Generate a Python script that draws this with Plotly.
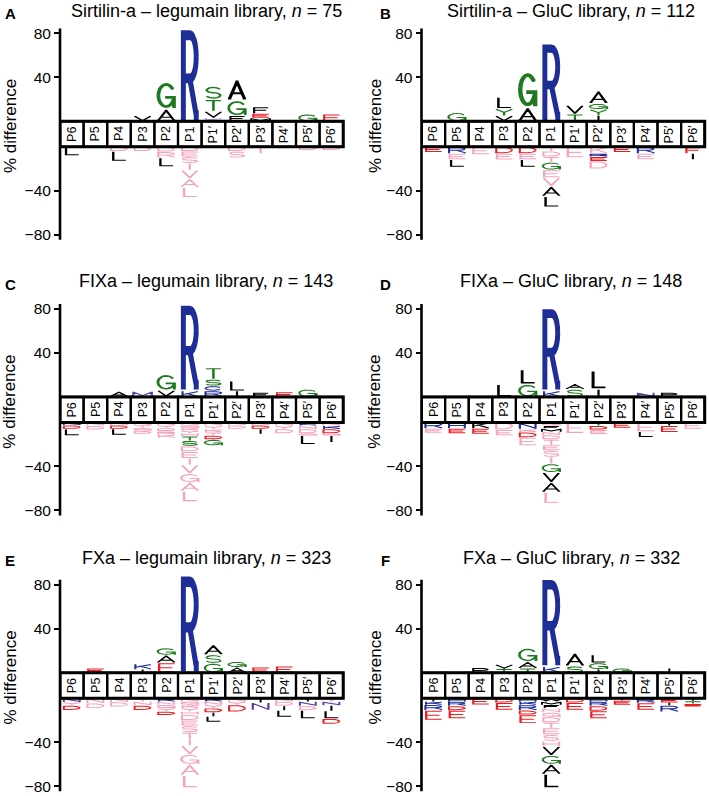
import math
import plotly.graph_objects as go

# ---------------- data ----------------
POSITIONS = ["P6", "P5", "P4", "P3", "P2", "P1", "P1′", "P2′", "P3′", "P4′", "P5′", "P6′"]
PANEL_LETTERS = ["A", "B", "C", "D", "E", "F"]
TITLES = ["Sirtilin-a – legumain library", "Sirtilin-a – GluC library",
          "FIXa – legumain library", "FIXa – GluC library",
          "FXa – legumain library", "FXa – GluC library"]
N_VALUES = [75, 112, 143, 148, 323, 332]
Y_TICKS = [80, 40, -40, -80]
Y_TICK_TEXT = ["80", "40", "−40", "−80"]

# each position: list of (residue, % difference magnitude, colour class), from the box outwards
A_POS = [[], [], [], [("V", 5, "k")], [("A", 11, "k"), ("G", 25, "g")], [("R", 84, "b")],
         [("K", 3, "l"), ("V", 6, "k"), ("T", 11, "g"), ("S", 12, "g")],
         [("F", 5, "k"), ("G", 14, "g"), ("A", 19, "k")],
         [("M", 3, "k"), ("E", 4, "r"), ("F", 6, "k")], [], [("G", 6.5, "g")], [("E", 6.5, "r")]]
A_NEG = [[("L", 8, "k")], [], [("D", 4, "p"), ("L", 9, "k")], [("D", 4, "p")],
         [("D", 4.5, "p"), ("R", 5.5, "p"), ("L", 8, "k")],
         [("D", 4, "p"), ("E", 5, "p"), ("S", 6, "p"), ("I", 6, "p"), ("V", 8, "p"), ("A", 8, "p"), ("L", 9, "p")],
         [], [("D", 4, "p"), ("S", 6, "p")], [("I", 6, "p")], [], [("D", 3, "p")], [("D", 3, "p")]]

B_POS = [[], [("G", 8, "g")], [], [("V", 5, "k"), ("Y", 6.5, "g"), ("L", 10.5, "k")],
         [("A", 12.5, "k"), ("G", 32.5, "g")], [("R", 71, "b")],
         [("T", 6.5, "g"), ("V", 8, "k")],
         [("I", 5, "k"), ("Y", 6, "g"), ("G", 5, "g"), ("A", 11.7, "k")], [], [], [], []]
B_NEG = [[("E", 5, "r")], [("R", 6, "b"), ("E", 5.5, "p"), ("L", 7, "k")], [("E", 7, "p")],
         [("D", 6, "r"), ("E", 5.7, "p")], [("D", 6, "r"), ("E", 5.5, "p"), ("L", 7, "k")],
         [("I", 4, "p"), ("D", 5, "p"), ("T", 5, "p"), ("G", 7, "g"), ("E", 7, "p"), ("V", 8, "p"), ("A", 9, "k"), ("L", 9.8, "k")],
         [("E", 10, "p")], [("K", 6, "p"), ("R", 3, "b"), ("E", 4, "r"), ("D", 7, "p")],
         [("E", 5, "r")], [("R", 6, "b"), ("E", 5.5, "p")], [], [("F", 6, "r"), ("I", 5.5, "k")]]

C_POS = [[], [], [("A", 5, "k")], [("M", 5, "v")], [("V", 6, "k"), ("G", 14.6, "g")],
         [("K", 5.5, "b"), ("R", 78.5, "b")],
         [("R", 5.5, "b"), ("C", 4.5, "b"), ("S", 6, "g"), ("T", 10.7, "g")],
         [("I", 5.5, "k"), ("L", 9, "k")], [("F", 4, "k")], [("E", 4.5, "r")], [("G", 7, "g")], []]
C_NEG = [[("N", 2.5, "b"), ("D", 3.5, "r"), ("L", 6, "k")], [("N", 3, "p"), ("D", 3.5, "p")],
         [("N", 2.5, "p"), ("D", 3.5, "r"), ("L", 5.5, "k")],
         [("N", 2.5, "p"), ("T", 2.5, "p"), ("Q", 2.5, "p"), ("D", 3, "p")],
         [("N", 2.5, "p"), ("Y", 2.5, "p"), ("D", 3, "p"), ("R", 3, "p"), ("K", 3, "p")],
         [("N", 2.5, "p"), ("Q", 2.5, "p"), ("K", 2.5, "p"), ("Y", 2.5, "p"), ("H", 2.5, "p"), ("T", 4, "g"),
          ("S", 5, "g"), ("D", 5, "p"), ("E", 6, "p"), ("I", 6, "p"), ("V", 8, "p"), ("G", 8, "p"), ("A", 8, "p"), ("L", 9.5, "p")],
         [("N", 3, "p"), ("Y", 3, "p"), ("K", 3, "p"), ("T", 3, "p"), ("D", 3.5, "r"), ("G", 5.5, "g")],
         [("N", 2.5, "p"), ("D", 3.5, "p")], [("N", 2.5, "p"), ("D", 3.5, "r"), ("I", 4.5, "k")],
         [("N", 3, "p"), ("Y", 3, "p"), ("D", 4, "p")],
         [("K", 3, "b"), ("N", 3, "p"), ("D", 4, "p"), ("Q", 2, "p"), ("L", 8, "k")],
         [("N", 3, "p"), ("K", 3, "b"), ("D", 4, "r"), ("Q", 2, "p"), ("I", 6, "k")]]

D_POS = [[], [], [], [("L", 11.5, "k")], [("G", 11.5, "g"), ("L", 13.5, "k")],
         [("K", 5.5, "b"), ("R", 75.5, "b")], [("S", 7, "g"), ("A", 5, "k")],
         [("I", 7, "k"), ("L", 17, "k")], [], [("N", 4, "v")], [("P", 4, "k")], []]
D_NEG = [[("R", 5.5, "b"), ("E", 4, "p")], [("H", 5.5, "b"), ("E", 4.5, "r")],
         [("K", 5.5, "k"), ("E", 5, "r")], [("D", 6.5, "p"), ("E", 5.5, "p")],
         [("N", 6, "b"), ("K", 3, "p"), ("D", 4.6, "r"), ("E", 7.4, "p")],
         [("Q", 3, "p"), ("F", 2.5, "k"), ("M", 3, "k"), ("N", 3, "p"), ("D", 4, "p"), ("T", 5, "p"), ("E", 5, "p"),
          ("S", 6, "p"), ("I", 6, "p"), ("G", 8, "g"), ("V", 9, "k"), ("A", 9, "k"), ("L", 10, "p")],
         [("E", 10, "p")], [("T", 3, "g"), ("D", 3.6, "r"), ("E", 4, "p")], [("E", 5, "r")],
         [("E", 8.5, "p"), ("L", 5, "k")], [("I", 3, "k"), ("E", 6, "r")], [("E", 6, "p")]]

E_POS = [[], [("E", 4, "r")], [], [("I", 3, "k"), ("K", 5, "b")],
         [("E", 9, "r"), ("A", 7, "k"), ("G", 6.5, "g")], [("R", 88.6, "b")],
         [("G", 8.6, "g"), ("S", 7.7, "g"), ("A", 9.2, "k")], [("A", 5, "k"), ("G", 5, "g")],
         [("E", 5, "r")], [("E", 6, "r")], [], []]
E_NEG = [[("N", 3.5, "v"), ("Y", 3, "p"), ("D", 4.3, "r")], [("N", 4.5, "p"), ("D", 4.7, "p")],
         [("N", 3.5, "p"), ("D", 4.2, "p")], [("T", 3, "p"), ("N", 3.5, "p"), ("D", 4.3, "r")],
         [("K", 3, "b"), ("N", 3, "p"), ("Q", 3, "p"), ("Y", 3, "p"), ("D", 3.4, "r")],
         [("N", 3, "p"), ("Q", 3, "p"), ("K", 3, "p"), ("Y", 3, "p"), ("H", 3, "p"), ("D", 5, "p"), ("E", 5, "p"),
          ("S", 6, "p"), ("T", 6, "p"), ("I", 6, "p"), ("V", 8, "p"), ("G", 9, "p"), ("A", 10, "p"), ("L", 11.5, "p")],
         [("K", 3, "b"), ("N", 3, "p"), ("Y", 3, "p"), ("D", 4, "r"), ("I", 3.5, "k"), ("L", 5, "k")],
         [("N", 3, "p"), ("Y", 3, "p"), ("D", 6.3, "r")], [("I", 4, "k"), ("N", 6.8, "v")],
         [("N", 3, "p"), ("D", 4, "p"), ("I", 4, "k"), ("L", 6, "k")],
         [("I", 3, "k"), ("N", 4, "v"), ("D", 4, "p"), ("L", 7.5, "k")],
         [("Y", 3, "p"), ("N", 3.5, "v"), ("I", 5, "k"), ("L", 7, "k"), ("D", 5, "r")]]

F_POS = [[], [], [("P", 4.5, "k")], [("T", 3.5, "g"), ("V", 4, "k")],
         [("T", 4, "g"), ("A", 6, "k"), ("G", 12.5, "g")], [("K", 5.5, "b"), ("R", 80, "b")],
         [("S", 6, "g"), ("A", 11.8, "k")], [("I", 3, "k"), ("G", 6, "g"), ("L", 7.3, "k")],
         [("G", 4, "g")], [], [("I", 4, "k")], []]
F_NEG = [[("I", 3, "k"), ("K", 3, "b"), ("R", 4.8, "b"), ("E", 9.2, "r")],
         [("H", 3, "b"), ("R", 4, "b"), ("D", 4, "r"), ("E", 7.5, "r")], [("E", 6, "r")],
         [("D", 4, "r"), ("E", 6.8, "r")],
         [("H", 3, "b"), ("K", 3, "b"), ("R", 5, "b"), ("D", 4, "r"), ("E", 8, "r")],
         [("W", 3, "k"), ("M", 3, "k"), ("F", 3, "k"), ("N", 4, "p"), ("Q", 4, "p"), ("D", 5, "p"), ("T", 5, "p"),
          ("E", 6, "p"), ("S", 6, "p"), ("H", 5, "p"), ("V", 8, "k"), ("G", 8, "g"), ("A", 9, "k"), ("L", 12.5, "k")],
         [("D", 4, "r"), ("E", 6.8, "r")], [("H", 3, "b"), ("R", 4, "b"), ("D", 4.5, "r"), ("E", 7, "r")],
         [("I", 2, "k"), ("E", 4, "r")], [("R", 4.3, "b"), ("E", 6.5, "r")],
         [("E", 4, "r"), ("I", 2.5, "k"), ("R", 5.8, "b")], [("I", 2.5, "k"), ("T", 2.5, "g"), ("E", 2.7, "r")]]

PANELS_POS = [A_POS, B_POS, C_POS, D_POS, E_POS, F_POS]
PANELS_NEG = [A_NEG, B_NEG, C_NEG, D_NEG, E_NEG, F_NEG]

# ---------------- styles ----------------
FONT = "Liberation Sans, Arial, Helvetica, sans-serif"
COLORS = {"k": "#000000", "g": "#1f7a1f", "r": "#ec1c24", "b": "#1f2d96",
          "p": "#f4a3bf", "v": "#5b3f9e", "l": "#9a9ad8"}
FIG_W, FIG_H = 709, 796
BOX_H = 11.6          # half height of the position box, in axis units
PX_PER_UNIT_Y = 1.1
PX_PER_UNIT_X = 23.6
COL_X0 = [60.0, 421.5]
ROW_CY = [134.1, 409.7, 685.5]
Y_RANGE = [-100, 104]
X_RANGE = [0, 12.15]


def arc(cx, cy, rx, ry, a0, a1, n=14):
    return [(cx + rx * math.cos(math.radians(a0 + (a1 - a0) * k / n)),
             cy + ry * math.sin(math.radians(a0 + (a1 - a0) * k / n))) for k in range(n + 1)]


PBOWL = [(0, 1), (0.55, 1)] + arc(0.55, 0.73, 0.45, 0.27, 90, -90, 10) + [(0.55, 0.46), (0, 0.46)]
GLYPHS = {
    "A": [("s", [(0, 0), (0.5, 1), (1, 0)]), ("s", [(0.2, 0.3), (0.8, 0.3)])],
    "C": [("o", arc(0.5, 0.5, 0.5, 0.5, 40, 320, 18))],
    "D": [("s", [(0, 0), (0, 1)]),
          ("o", [(0, 1), (0.45, 1)] + arc(0.45, 0.5, 0.55, 0.5, 90, -90, 14) + [(0.45, 0), (0, 0)])],
    "E": [("s", [(1, 1), (0, 1), (0, 0), (1, 0)]), ("s", [(0, 0.5), (0.85, 0.5)])],
    "F": [("s", [(1, 1), (0, 1), (0, 0)]), ("s", [(0, 0.5), (0.85, 0.5)])],
    "G": [("o", arc(0.5, 0.5, 0.5, 0.5, 40, 340, 18)), ("s", [(0.55, 0.42), (1, 0.42), (1, 0)])],
    "H": [("s", [(0, 0), (0, 1)]), ("s", [(1, 0), (1, 1)]), ("s", [(0, 0.5), (1, 0.5)])],
    "I": [("s", [(0.5, 0), (0.5, 1)])],
    "K": [("s", [(0, 0), (0, 1)]), ("s", [(1, 1), (0, 0.35)]), ("s", [(0.32, 0.6), (1, 0)])],
    "L": [("s", [(0, 1), (0, 0), (1, 0)])],
    "M": [("s", [(0, 0), (0, 1), (0.5, 0.12), (1, 1), (1, 0)])],
    "N": [("s", [(0, 0), (0, 1), (1, 0), (1, 1)])],
    "P": [("s", [(0, 0), (0, 1)]), ("o", PBOWL)],
    "Q": [("o", arc(0.5, 0.5, 0.5, 0.5, 0, 360, 22)), ("s", [(0.62, 0.25), (1, 0)])],
    "R": [("s", [(0, 0), (0, 1)]), ("o", PBOWL), ("s", [(0.5, 0.46), (1, 0)])],
    "S": [("o", arc(0.5, 0.75, 0.48, 0.25, 25, 270, 10) + arc(0.5, 0.25, 0.5, 0.25, 90, -155, 10)[1:])],
    "T": [("s", [(0, 1), (1, 1)]), ("s", [(0.5, 1), (0.5, 0)])],
    "V": [("s", [(0, 1), (0.5, 0), (1, 1)])],
    "W": [("s", [(0, 1), (0.25, 0), (0.5, 0.8), (0.75, 0), (1, 1)])],
    "Y": [("s", [(0, 1), (0.5, 0.5), (1, 1)]), ("s", [(0.5, 0.5), (0.5, 0)])],
}
WIDTH = {"A": .72, "C": .72, "D": .72, "E": .67, "F": .61, "G": .78, "H": .72, "I": .28, "K": .67,
         "L": .56, "M": .83, "N": .72, "P": .67, "Q": .78, "R": .72, "S": .67, "T": .61, "V": .67,
         "W": .94, "Y": .67}


def ccw(poly):
    s = 0.0
    for i in range(len(poly)):
        x1, y1 = poly[i]
        x2, y2 = poly[(i + 1) % len(poly)]
        s += x1 * y2 - x2 * y1
    return poly if s >= 0 else poly[::-1]


def glyph_polys(letter, xc, y0, y1):
    h = y1 - y0
    pad = min(0.05 * h, 1.2)
    y0, y1 = y0 + pad, y1 - pad
    h = y1 - y0
    w = 1.05 * WIDTH[letter]
    hpx = h * PX_PER_UNIT_Y
    tx = 0.07 + 0.14 * min(1.0, hpx / 40.0)
    tx = min(tx, 0.9 * w)
    ty = min(max(0.11 * h, 0.9), 0.4 * h)
    a, b = tx / 2, ty / 2
    x0 = xc - w / 2
    polys = []
    for join, pts in GLYPHS[letter]:
        P = [(x0 + a + u * (w - 2 * a), y0 + b + v * (h - 2 * b)) for u, v in pts]
        for p, q in zip(P[:-1], P[1:]):
            dx, dy = (q[0] - p[0]) / a, (q[1] - p[1]) / b
            L = math.hypot(dx, dy)
            if L == 0:
                continue
            ox, oy = -dy / L * a, dx / L * b
            polys.append(ccw([(p[0] + ox, p[1] + oy), (q[0] + ox, q[1] + oy),
                              (q[0] - ox, q[1] - oy), (p[0] - ox, p[1] - oy)]))
        for vx, vy in P:
            if join == "s":
                polys.append([(vx - a, vy - b), (vx + a, vy - b), (vx + a, vy + b), (vx - a, vy + b)])
            else:
                polys.append([(vx + a * math.cos(math.radians(22.5 + 45 * k)),
                               vy + b * math.sin(math.radians(22.5 + 45 * k))) for k in range(8)])
    return polys


fig = go.Figure()
layout = dict(width=FIG_W, height=FIG_H, margin=dict(l=0, r=0, t=0, b=0),
              paper_bgcolor="white", plot_bgcolor="white", showlegend=False)
shapes, annotations = [], []


def px2x(px):
    return px / FIG_W


def py2y(py):
    return 1 - py / FIG_H


for k in range(6):
    r, c = k // 2, k % 2
    sfx = "" if k == 0 else str(k + 1)
    xname, yname = "x" + sfx, "y" + sfx
    x0p = COL_X0[c]
    x1p = x0p + (X_RANGE[1] - X_RANGE[0]) * PX_PER_UNIT_X
    cy = ROW_CY[r]
    ytop = cy - Y_RANGE[1] * PX_PER_UNIT_Y
    ybot = cy - Y_RANGE[0] * PX_PER_UNIT_Y
    layout["xaxis" + sfx] = dict(domain=[px2x(x0p), px2x(x1p)], range=X_RANGE, visible=False,
                                 anchor=yname, fixedrange=True)
    layout["yaxis" + sfx] = dict(domain=[py2y(ybot), py2y(ytop)], range=Y_RANGE, anchor=xname,
                                 showgrid=False, zeroline=False, showline=False,
                                 tickvals=[v + BOX_H if v > 0 else v - BOX_H for v in Y_TICKS],
                                 ticktext=Y_TICK_TEXT, ticks="outside", ticklen=5, tickwidth=1.6,
                                 tickcolor="black", tickfont=dict(family=FONT, size=15.5, color="black"),
                                 fixedrange=True)

    # letters
    groups = {}
    for sign, data in ((1, PANELS_POS[k]), (-1, PANELS_NEG[k])):
        for i, stack in enumerate(data):
            base = BOX_H
            for letter, val, col in stack:
                if sign > 0:
                    ya, yb = base, base + val
                else:
                    ya, yb = -(base + val), -base
                base += val
                for poly in glyph_polys(letter, i + 0.5, ya, yb):
                    g = groups.setdefault(col, ([], []))
                    g[0].extend([p[0] for p in poly] + [poly[0][0], None])
                    g[1].extend([p[1] for p in poly] + [poly[0][1], None])
    for col, (xs, ys) in groups.items():
        fig.add_trace(go.Scatter(x=xs, y=ys, mode="lines", fill="toself", fillcolor=COLORS[col],
                                 line=dict(width=0, color=COLORS[col]), hoverinfo="skip",
                                 xaxis=xname, yaxis=yname))

    # position box
    for i in range(12):
        shapes.append(dict(type="rect", xref=xname, yref=yname, x0=i, x1=i + 1, y0=-BOX_H, y1=BOX_H,
                           line=dict(color="black", width=2.2), fillcolor="rgba(0,0,0,0)"))
        annotations.append(dict(xref=xname, yref=yname, x=i + 0.5, y=0, text=POSITIONS[i],
                                showarrow=False, textangle=-90,
                                font=dict(family=FONT, size=12.5, color="black")))
    shapes.append(dict(type="rect", xref=xname, yref=yname, x0=0, x1=12, y0=-BOX_H, y1=BOX_H,
                       line=dict(color="black", width=3)))
    # y axis line
    shapes.append(dict(type="line", xref="paper", yref=yname, x0=px2x(x0p), x1=px2x(x0p),
                       y0=-80 - BOX_H - 4.5, y1=80 + BOX_H + 4.5, line=dict(color="black", width=2.6)))

    # titles, panel letters, axis titles
    title_cx = [206, 571][c]
    title_cy = [11, 281, 557.5][r]
    annotations.append(dict(xref="paper", yref="paper", x=px2x(title_cx), y=py2y(title_cy),
                            text=f"{TITLES[k]}, <i>n</i> = {N_VALUES[k]}", showarrow=False,
                            xanchor="center", yanchor="middle",
                            font=dict(family=FONT, size=18, color="black")))
    lx = [10, 385][c]
    ly = [13.5, 284, 560][r]
    annotations.append(dict(xref="paper", yref="paper", x=px2x(lx), y=py2y(ly), text=f"<b>{PANEL_LETTERS[k]}</b>",
                            showarrow=False, xanchor="center", yanchor="middle",
                            font=dict(family=FONT, size=15, color="black")))
    annotations.append(dict(xref="paper", yref="paper", x=px2x([10, 375][c]), y=py2y(cy - 8),
                            text="% difference", showarrow=False, textangle=-90,
                            xanchor="center", yanchor="middle",
                            font=dict(family=FONT, size=17, color="black")))

layout["shapes"] = shapes
layout["annotations"] = annotations
fig.update_layout(**layout)
fig.write_html("out.html", config={"displayModeBar": False},
               post_script="document.body.style.margin='0px';document.body.style.padding='0px';")
